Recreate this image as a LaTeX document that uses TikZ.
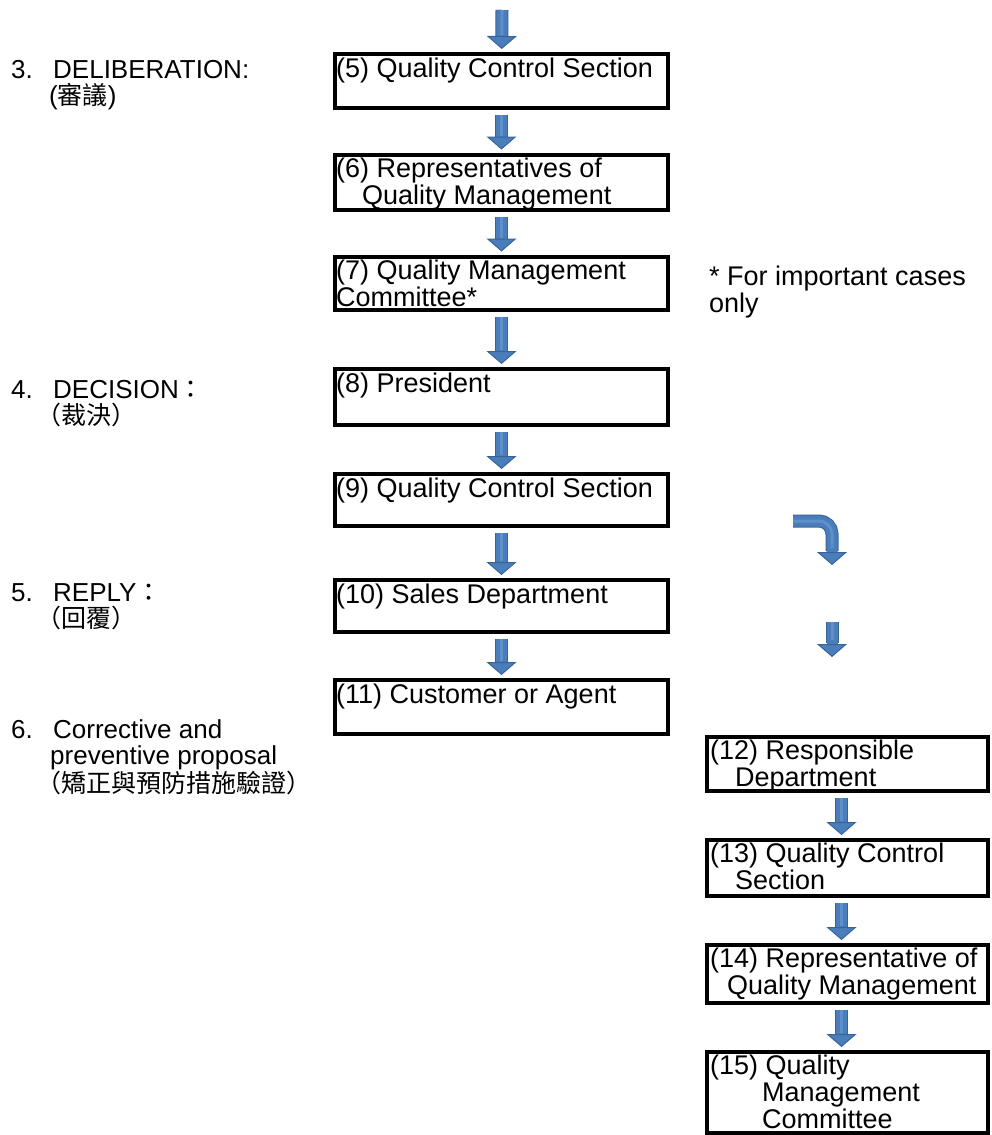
\documentclass[tikz,border=0pt]{standalone}
\usepackage{fontspec}
\setmainfont{Liberation Sans}
\newfontfamily\cjk{Noto Sans CJK TC}
\usetikzlibrary{arrows.meta}
\definecolor{bleuFleche}{HTML}{4A7EBB}
\definecolor{bordFleche}{HTML}{3A6395}
\definecolor{bleuClair}{HTML}{5F90CC}
\newcommand{\zh}[1]{{\cjk\fontsize{25pt}{27pt}\selectfont #1}}
\newcommand{\haut}{\rule{0pt}{25pt}}
\begin{document}
\begin{tikzpicture}[x=1pt,y=-1pt]
  \tikzstyle{boite}=[draw=black, line width=4pt, rectangle, inner sep=0pt]
  \tikzstyle{texte}=[anchor=north west, align=left, inner sep=0pt,
  font=\fontsize{27pt}{27pt}\selectfont]
  \tikzstyle{etape}=[texte, font=\fontsize{26pt}{26pt}\selectfont]
  \tikzstyle{fleche}=[line width=11pt, draw=bleuFleche, shorten <=5pt, shorten >=3pt,
  -{Triangle[width=30pt,length=13pt,line width=1pt,color=bordFleche,fill=bleuFleche]},
  preaction={draw=bordFleche, line width=13pt, -, shorten >=14pt},
  postaction={draw=bleuClair, line width=3pt, -, shorten >=17pt}]
  \useasboundingbox[fill=white] (0,0) rectangle (991,1135);
  \foreach \n/\y/\h in {b5/81/54,b6/182/55,b7/283/53,b8/397/56,b9/500/52,b10/606/52,b11/707/54} {
    \draw (501.5,\y) node[boite, minimum width=333, minimum height=\h] (\n) {};
  }
  \foreach \n/\y/\h in {b12/764/54,b13/868/56,b14/974/58,b15/1092.5/81} {
    \draw (847.5,\y) node[boite, minimum width=281, minimum height=\h] (\n) {};
  }
  \foreach \n/\txt in {b5/{(5) Quality Control Section},
    b6/{(6) Representatives of\\\hspace*{26pt}Quality Management},
    b7/{(7) Quality Management\\Committee*},
    b8/{(8) President},
    b9/{(9) Quality Control Section},
    b10/{(10) Sales Department},
    b11/{(11) Customer or Agent}} {
    \node[texte] (t\n) at ([shift={(3,0)}]\n.north west) {\haut\txt};
  }
  \foreach \n/\txt in {b12/{(12) Responsible\\\hspace*{25pt}Department},
    b13/{(13) Quality Control\\\hspace*{25pt}Section},
    b14/{(14) Representative of\\\hspace*{17pt}Quality Management},
    b15/{(15) Quality\\\hspace*{52pt}Management\\\hspace*{52pt}Committee}} {
    \node[texte] (t\n) at ([shift={(5,-1)}]\n.north west) {\haut\txt};
  }
  \node[etape] (etape3) at (11,53) {\haut\makebox[42pt][l]{3.}DELIBERATION:\\\hspace*{38pt}(\zh{審議})};
  \node[etape] (etape4) at (11,373) {\haut\makebox[42pt][l]{4.}DECISION\zh{：}\\\hspace*{25pt}\zh{（裁決）}};
  \node[etape] (etape5) at (11,576) {\haut\makebox[42pt][l]{5.}REPLY\zh{：}\\\hspace*{25pt}\zh{（回覆）}};
  \node[etape] (etape6) at (11,713) {\haut\makebox[42pt][l]{6.}Corrective and\\\hspace*{39pt}preventive proposal\\\hspace*{25pt}\zh{（矯正與預防措施驗證）}};
  \node[texte] (note) at (709,260) {\haut* For important cases\\only};
  \coordinate (depart) at (502,10);
  \coordinate (coudeA) at (793,521);
  \coordinate (coudeB) at (832,565);
  \coordinate (basA) at (832,622);
  \coordinate (basB) at (832,657);
  \draw[fleche, shorten <=0pt] (depart) -- (b5);
  \foreach \a/\b in {b5/b6,b6/b7,b7/b8,b8/b9,b9/b10,b10/b11} {
    \draw[fleche] (\a) -- (\b);
  }
  \foreach \a/\b in {b12/b13,b13/b14,b14/b15} {
    \draw[fleche] ([xshift=-6pt]\a.south) -- ([xshift=-6pt]\b.north);
  }
  \draw[fleche, shorten <=0pt, shorten >=0pt, rounded corners=13pt] (coudeA) -| (coudeB);
  \draw[fleche, shorten <=0pt, shorten >=0pt] (basA) -- (basB);
\end{tikzpicture}
\end{document}
